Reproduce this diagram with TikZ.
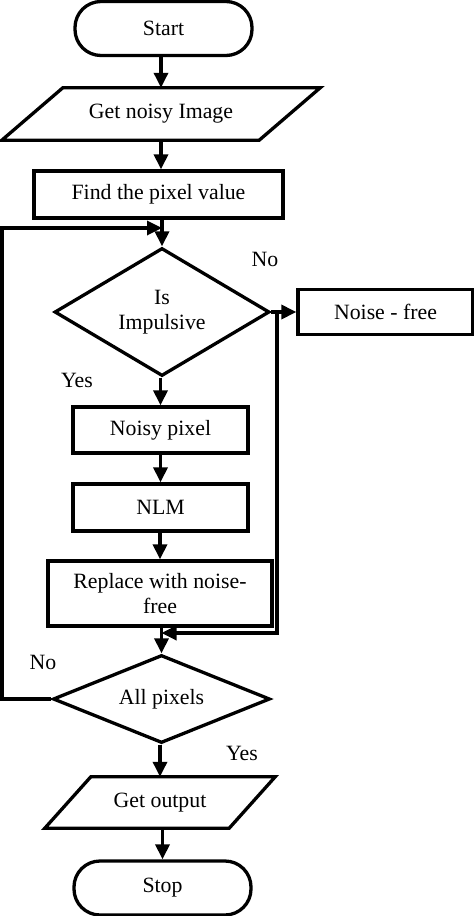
\documentclass[tikz,border=0pt]{standalone}
\usepackage{fontspec}
\setmainfont{Liberation Serif}
\usetikzlibrary{arrows.meta,shapes.geometric}
\begin{document}
\begin{tikzpicture}[x=1pt,y=-1pt,
  every node/.style={font=\fontsize{21.8}{25}\selectfont, inner sep=0pt, align=center},
  ln/.style={line width=3.3pt},
  arr/.style={line width=3.3pt,-{Triangle[length=15pt,width=14pt]}},
  term/.style={draw,line width=3.3pt,rounded corners=26pt,minimum width=177pt,minimum height=54pt},
  procbox/.style={draw,line width=3.3pt},
  iobox/.style={},
  decision/.style={draw,diamond,line width=3.3pt},
  lbl/.style={}]
\useasboundingbox (0,0) rectangle (474,916);
% nodes
\node[term] (start) at (163.5,28.5) {Start};
\node[iobox,minimum width=318pt,minimum height=52pt] (get) at (161,114) {Get noisy Image};
\draw[ln] ([xshift=61pt]get.north west) -- (get.north east) -- ([xshift=-61pt]get.south east) -- (get.south west) -- cycle;
\node[procbox,minimum width=249pt,minimum height=47pt] (find) at (158.5,194.5) {Find the pixel value};
\node[decision,aspect=1.7,minimum width=215pt,minimum height=128pt] (imp) at (162,312) {Is\\Impulsive};
\node[procbox,minimum width=175pt,minimum height=45pt] (nf) at (385.5,312) {Noise - free};
\node[procbox,minimum width=175pt,minimum height=46pt] (noisy) at (160.5,430) {Noisy pixel};
\node[procbox,minimum width=175pt,minimum height=47pt] (nlm) at (160.5,507.5) {NLM};
\node[procbox,minimum width=224pt,minimum height=65pt] (rep) at (160,593.5) {Replace with noise-\\free};
\node[decision,aspect=2.4,minimum width=217pt,minimum height=88pt] (allp) at (161.5,699) {All pixels};
\node[iobox,minimum width=230pt,minimum height=51pt] (out) at (160,802.5) {Get output};
\draw[ln] ([xshift=46pt]out.north west) -- (out.north east) -- ([xshift=-46pt]out.south east) -- (out.south west) -- cycle;
\node[term] (stop) at (162.5,888) {Stop};
% labels
\node[lbl] (no1) at (265,259) {No};
\node[lbl] (yes1) at (77,380) {Yes};
\node[lbl] (no2) at (43,662) {No};
\node[lbl] (yes2) at (242,753) {Yes};
% helper coordinates
\coordinate (lp) at (2,228);
\coordinate (br) at (277,312);
\coordinate (mj) at (161.5,633);
% connectors
\draw[arr] (start.south -| get.north) -- (get.north);
\draw[arr] (get.south) -- (get.south |- find.north);
\draw[arr] (find.south -| imp.north) -- (imp.north);
\draw[arr] (imp.east) -- (nf.west);
\draw[arr] (imp.south -| noisy.north) -- (noisy.north);
\draw[arr] (noisy.south) -- (nlm.north);
\draw[arr] (nlm.south -| rep.north) -- (rep.north);
\draw[arr] (rep.south -| allp.north) -- (allp.north);
\draw[arr] (br) |- (mj);
\draw[arr] (allp.west) -| (lp) -- (lp -| imp.north);
\draw[arr] (allp.south -| out.north) -- (out.north);
\draw[arr] (out.south -| stop.north) -- (stop.north);
\end{tikzpicture}
\end{document}
